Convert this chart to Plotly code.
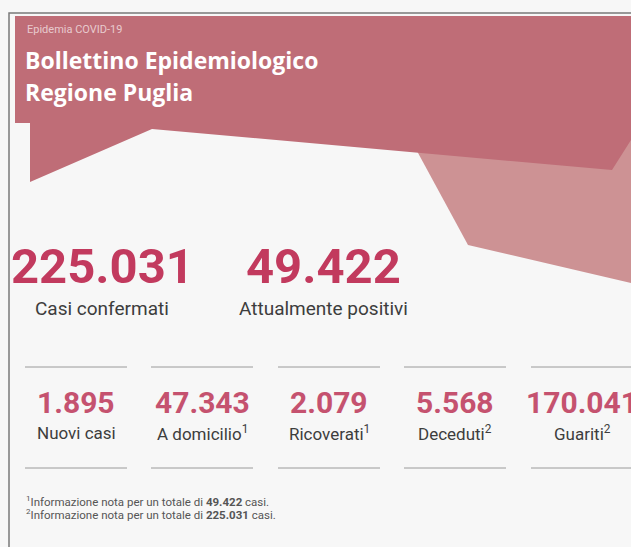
import plotly.graph_objects as go

# ---- data ----
header_kicker = "Epidemia COVID-19"
header_title = ["Bollettino Epidemiologico", "Regione Puglia"]

main_values = ["225.031", "49.422"]
main_labels = ["Casi confermati", "Attualmente positivi"]

sub_values = ["1.895", "47.343", "2.079", "5.568", "170.041"]
sub_labels = ["Nuovi casi", "A domicilio<sup>1</sup>", "Ricoverati<sup>1</sup>",
              "Deceduti<sup>2</sup>", "Guariti<sup>2</sup>"]

footnotes = [
    "<sup>1</sup>Informazione nota per un totale di <b>49.422</b> casi.",
    "<sup>2</sup>Informazione nota per un totale di <b>225.031</b> casi.",
]

W, H = 631, 547
DARK = "#bf6d77"
LIGHT = "#cd9294"
NUM = "#c23a5e"
NUM2 = "#c5526f"
TXT = "#3d3d3d"
FONT = "Roboto"
TFONT = "Open Sans"

fig = go.Figure()

shapes = [
    # light pink polygon (behind)
    dict(type="path", path="M 411 140 L 631 140 L 631 283 L 468 245 Z",
         fillcolor=LIGHT, line=dict(width=0), layer="below"),
    # dark pink header polygon
    dict(type="path",
         path="M 15 16 L 631 16 L 631 140 L 612 170 L 152 129 L 30 182 L 30 123 L 15 123 Z",
         fillcolor=DARK, line=dict(width=0), layer="below"),
    # frame
    dict(type="path", path="M 9 547 L 9 13 L 631 13",
         line=dict(color="#7a7a7a", width=1.5)),
]

annotations = [
    dict(x=25, y=29, text=header_kicker, xanchor="left", yanchor="middle",
         font=dict(family=FONT, size=11, color="rgba(255,255,255,0.65)")),
    dict(x=23, y=60, text="<b>%s</b>" % header_title[0], xanchor="left", yanchor="middle",
         font=dict(family=TFONT, size=23, color="white")),
    dict(x=23, y=92, text="<b>%s</b>" % header_title[1], xanchor="left", yanchor="middle",
         font=dict(family=TFONT, size=23, color="white")),
]

main_x = [102, 323]
for x, v, l in zip(main_x, main_values, main_labels):
    annotations.append(dict(x=x, y=266, text="<b>%s</b>" % v, xanchor="center", yanchor="middle",
                            font=dict(family=FONT, size=49, color=NUM)))
    annotations.append(dict(x=x, y=308, text=l, xanchor="center", yanchor="middle",
                            font=dict(family=FONT, size=19, color=TXT)))

sub_x = [76, 202, 329, 455, 582]
for x, v, l in zip(sub_x, sub_values, sub_labels):
    shapes.append(dict(type="line", x0=x - 51, x1=x + 51, y0=367, y1=367,
                       line=dict(color="#9a9a9a", width=1)))
    shapes.append(dict(type="line", x0=x - 51, x1=x + 51, y0=468, y1=468,
                       line=dict(color="#9a9a9a", width=1)))
    annotations.append(dict(x=x, y=402, text="<b>%s</b>" % v, xanchor="center", yanchor="middle",
                            font=dict(family=FONT, size=30, color=NUM2)))
    annotations.append(dict(x=x, y=433, text=l, xanchor="center", yanchor="middle",
                            font=dict(family=FONT, size=17, color=TXT)))

for i, f in enumerate(footnotes):
    annotations.append(dict(x=24, y=501 + i * 13, text=f, xanchor="left", yanchor="middle",
                            font=dict(family=FONT, size=11.5, color="#555555")))

fig.update_layout(
    width=W, height=H,
    margin=dict(l=0, r=0, t=0, b=0),
    paper_bgcolor="#f7f7f7", plot_bgcolor="#f7f7f7",
    xaxis=dict(range=[0, W], visible=False, fixedrange=True),
    yaxis=dict(range=[H, 0], visible=False, fixedrange=True),
    shapes=shapes, annotations=annotations, showlegend=False,
)
for a in fig.layout.annotations:
    a.showarrow = False

fig.write_html("out.html", config={"displayModeBar": False},
               post_script="document.body.style.margin='0';document.body.style.overflow='hidden';")
